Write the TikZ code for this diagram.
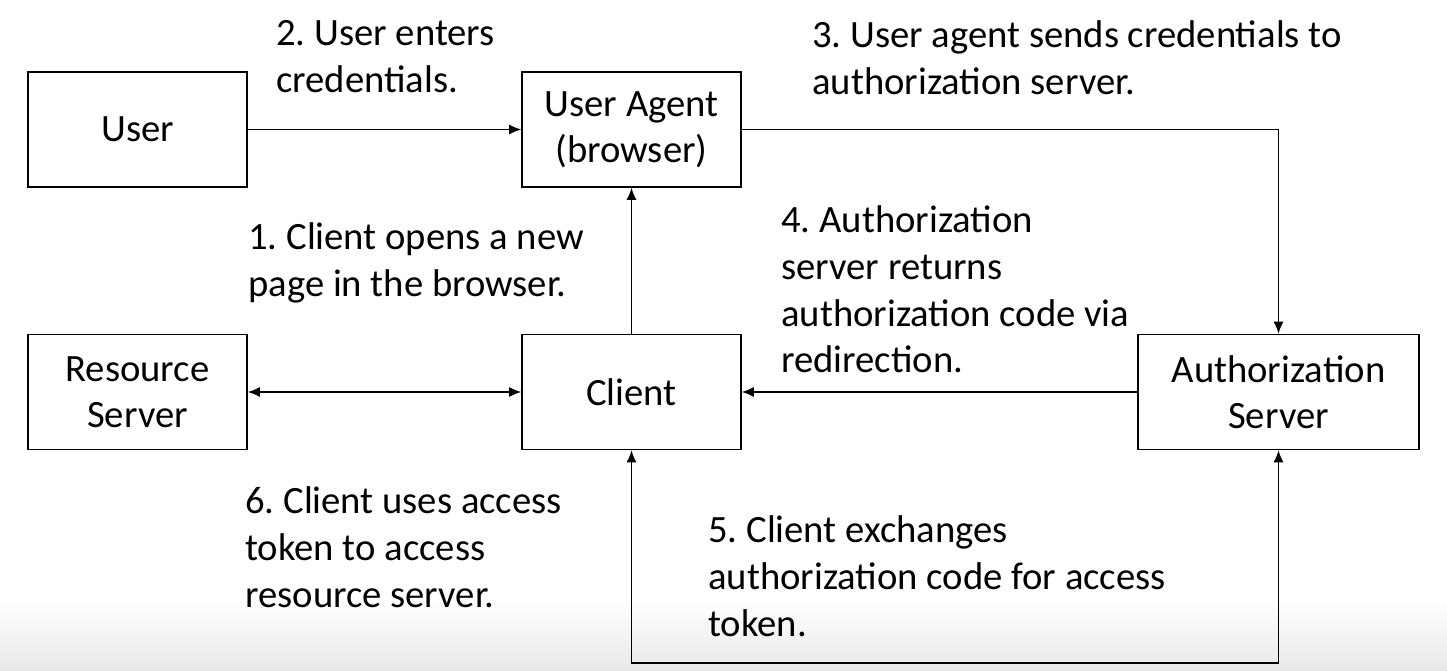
\documentclass[tikz,border=0pt]{standalone}
\usepackage{fontspec}
\setmainfont{Carlito}
\usetikzlibrary{arrows.meta}
\frenchspacing

\begin{document}
\begin{tikzpicture}[x=0.02cm, y=-0.02cm,
    box/.style={draw, line width=1.1pt, rectangle, minimum width=4.38cm, minimum height=2.3cm, align=center, font=\fontsize{22pt}{26pt}\selectfont},
    lbl/.style={anchor=north west, inner sep=0pt, align=left, font=\fontsize{22pt}{26.7pt}\selectfont},
    flow/.style={line width=0.6pt, -{Latex[length=6.8pt, width=5.7pt]}},
    both/.style={line width=0.6pt, {Latex[length=6.8pt, width=5.7pt]}-{Latex[length=6.8pt, width=5.7pt]}}]
      \useasboundingbox (0,0) rectangle (1447,671);
      \shade[top color=white, bottom color=black!9] (0,600) rectangle (1447,671);

      % User
      \node[box] (user) at (137.5,129.5) {User};

      % User Agent
      \node[box] (agent) at (631.5,129.5) {User Agent\\(browser)};

      % Resource Server
      \node[box] (res) at (137.5,392) {Resource\\Server};

      % Client
      \node[box] (client) at (631.5,392) {Client};

      % Authorization Server
      \node[box, minimum width=5.62cm] (auth) at (1278.5,392) {Authorization\\Server};

      % Labels (top of strut = baseline - 33)
      \node[lbl] (l2) at (276,12) {\strut 2. User enters\\credentials.};
      \node[lbl] (l3) at (812,14) {\strut 3. User agent sends credentials to\\authorization server.};
      \node[lbl] (l1) at (248,216) {\strut 1. Client opens a new\\page in the browser.};
      \node[lbl] (l4) at (781,199) {\strut 4. Authorization\\server returns\\authorization code via\\redirection.};
      \node[lbl] (l6) at (245,480) {\strut 6. Client uses access\\token to access\\resource server.};
      \node[lbl] (l5) at (708,509) {\strut 5. Client exchanges\\authorization code for access\\token.};

      % Arrows
      \coordinate (low) at (631.5,663);
      \draw[flow] (user) -- (agent);
      \draw[flow] (agent.east) -| (auth.north);
      \draw[flow] (client) -- (agent);
      \draw[flow] (auth) -- (client);
      \draw[both] (res) -- (client);
      \draw[both] (client.south) -- (low) -| (auth.south);
    \end{tikzpicture}
\end{document}
